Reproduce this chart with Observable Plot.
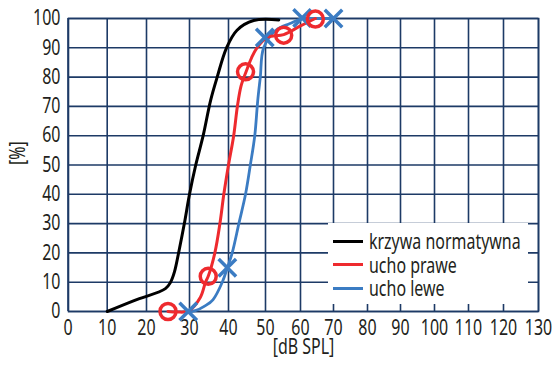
<!DOCTYPE html>
<html>
<head>
<meta charset="utf-8">
<script src="https://cdn.jsdelivr.net/npm/d3@7"></script>
<script src="https://cdn.jsdelivr.net/npm/@observablehq/plot@0.6"></script>
<style>
  html, body { margin: 0; padding: 0; background: #fff; }
  #wrap { position: relative; width: 553px; height: 366px; font-family: "Noto Sans", "Open Sans", sans-serif; }
  #legend { position: absolute; left: 328px; top: 223px; width: 200px; height: 81px; background: #fff; color: #231f20; font-size: 21px; }
  .row { position: absolute; left: 5px; height: 24px; display: flex; align-items: center; white-space: nowrap; }
  .sw { width: 30px; height: 3px; margin-right: 6px; flex: none; }
  .lbl { display: inline-block; transform-origin: left center; }
</style>
</head>
<body>
<div id="wrap"></div>
<script>
// Tick values
const xTicks = [0, 10, 20, 30, 40, 50, 60, 70, 80, 90, 100, 110, 120, 130];
const yTicks = [0, 10, 20, 30, 40, 50, 60, 70, 80, 90, 100];

// Normative curve (krzywa normatywna)
const normX = [10, 17, 24.4, 25.6, 26.5, 27.6, 28.8, 30, 31.6, 33.5, 35.4, 37.1, 39.5, 42.3, 46.8, 53.8];
const normY = [0, 3.8, 7.8, 10, 13.5, 21, 30, 40, 50, 60, 72, 80, 90, 96, 99.3, 99.5];

// Right ear (ucho prawe) fitted curve and measured points
const rightX = [25, 27.2, 29.8, 32.8, 34.1, 34.8, 36.5, 37.8, 38.8, 40, 41.4, 42.4, 43.4, 44.8, 46.2, 47.7, 50.6, 55.2, 60, 64.5];
const rightY = [0, -0.2, 0.2, 4.9, 10, 12, 20, 30, 40, 50, 60, 70, 77, 82, 86.5, 90, 93.6, 94.5, 97.5, 100];
const rightPtX = [25, 34.8, 44.6, 55.2, 64.5];
const rightPtY = [0, 12, 81.8, 94.3, 99.8];

// Left ear (ucho lewe) fitted curve and measured points
const leftX = [29.7, 31.5, 34.1, 36, 38.4, 39.7, 41, 42.8, 44.6, 45.9, 47.1, 47.9, 48.6, 49.5, 53, 57, 60.5, 65, 70];
const leftY = [0, 0.3, 2, 4, 10, 14.9, 20, 30, 40, 50, 60, 72, 80, 90, 96, 98.3, 100, 100, 100];
const leftPtX = [29.7, 39.7, 49.8, 60.5, 70];
const leftPtY = [0, 14.9, 93.5, 100.2, 100];

const navy = "#1d3a66";
const red = "#ee2a2e";
const blue = "#3b7cc3";
const ink = "#231f20";
const font = "\"Noto Sans\", \"Open Sans\", sans-serif";
const squeeze = 0.76;

const pts = (xs, ys) => xs.map((x, i) => ({x, y: ys[i]}));

const chart = Plot.plot({
  width: 553,
  height: 366,
  marginTop: 18,
  marginBottom: 55,
  marginLeft: 68,
  marginRight: 15,
  style: {fontFamily: font, fontSize: "21px", color: ink, background: "#fff"},
  x: {type: "linear", domain: xTicks, range: [67.5, 106.7, 146, 189, 228, 265, 300, 333, 367, 400, 434, 468, 503, 538]},
  y: {domain: [0, 100]},
  marks: [
    Plot.gridX(xTicks, {stroke: navy, strokeOpacity: 1, strokeWidth: 1.6}),
    Plot.gridY(yTicks, {stroke: navy, strokeOpacity: 1, strokeWidth: 1.6}),
    Plot.frame({stroke: navy, strokeWidth: 1.6}),
    Plot.axisX(xTicks, {tickSize: 0, tickPadding: 9, fontSize: 21, label: null, fill: ink}),
    Plot.axisY(yTicks, {tickSize: 0, tickPadding: 8, fontSize: 21, label: null, fill: ink}),
    Plot.text(["[dB SPL]"], {frameAnchor: "bottom", dy: 42, fontSize: 21, fill: ink}),
    Plot.text(["[%]"], {frameAnchor: "left", dx: -50, rotate: -90, fontSize: 21, fill: ink}),
    Plot.line(pts(normX, normY), {x: "x", y: "y", stroke: "#000", strokeWidth: 3, curve: "catmull-rom"}),
    Plot.line(pts(leftX, leftY), {x: "x", y: "y", stroke: blue, strokeWidth: 2.8, curve: "catmull-rom"}),
    Plot.line(pts(rightX, rightY), {x: "x", y: "y", stroke: red, strokeWidth: 3, curve: "catmull-rom"}),
    Plot.dot(pts(leftPtX, leftPtY), {x: "x", y: "y", symbol: "times", r: 8, stroke: blue, strokeWidth: 3.5}),
    Plot.dot(pts(rightPtX, rightPtY), {x: "x", y: "y", symbol: "circle", r: 8, stroke: red, strokeWidth: 3.5, fill: "none"})
  ]
});

const wrap = document.getElementById("wrap");
wrap.appendChild(chart);

// Narrow the text horizontally to mimic the condensed face of the original
chart.querySelectorAll("text").forEach((t) => {
  const len = t.getComputedTextLength();
  if (len > 0) {
    t.setAttribute("textLength", (len * squeeze).toFixed(2));
    t.setAttribute("lengthAdjust", "spacingAndGlyphs");
  }
});

const legendItems = [
  {label: "krzywa normatywna", color: "#000"},
  {label: "ucho prawe", color: red},
  {label: "ucho lewe", color: blue}
];
const lg = document.createElement("div");
lg.id = "legend";
legendItems.forEach((d, i) => {
  const row = document.createElement("div");
  row.className = "row";
  row.style.top = (6 + i * 23.5) + "px";
  const sw = document.createElement("div");
  sw.className = "sw";
  sw.style.background = d.color;
  const t = document.createElement("span");
  t.className = "lbl";
  t.textContent = d.label;
  t.style.transform = `scaleX(${squeeze})`;
  row.appendChild(sw);
  row.appendChild(t);
  lg.appendChild(row);
});
wrap.appendChild(lg);
</script>
</body>
</html>
